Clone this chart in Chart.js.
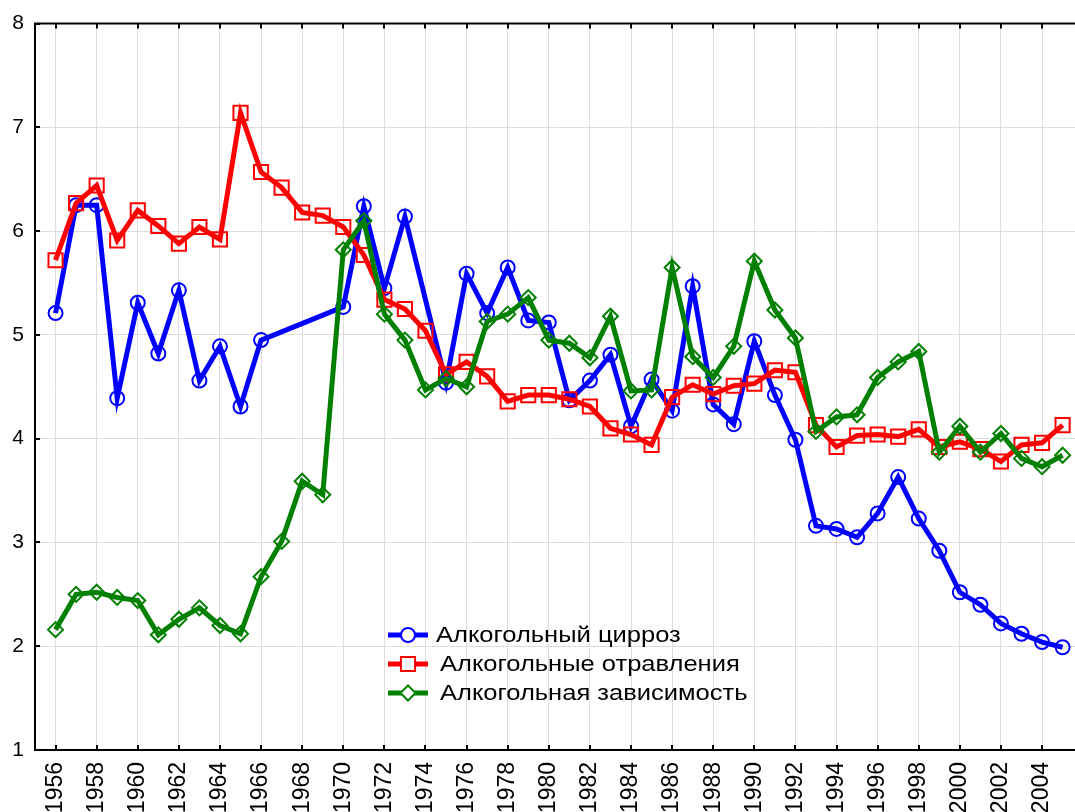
<!DOCTYPE html>
<html>
<head>
<meta charset="utf-8">
<script src="https://cdn.jsdelivr.net/npm/chart.js@4"></script>
<style>
  html, body { margin: 0; padding: 0; background: #fff; overflow: hidden; }
  canvas { display: block; }
</style>
</head>
<body>
<canvas id="chart" width="1089" height="830"></canvas>
<script>
var years = [1956, 1957, 1958, 1959, 1960, 1961, 1962, 1963, 1964, 1965,
             1966, 1967, 1968, 1969, 1970, 1971, 1972, 1973, 1974, 1975,
             1976, 1977, 1978, 1979, 1980, 1981, 1982, 1983, 1984, 1985,
             1986, 1987, 1988, 1989, 1990, 1991, 1992, 1993, 1994, 1995,
             1996, 1997, 1998, 1999, 2000, 2001, 2002, 2003, 2004, 2005];

var cirrhosis = [5.21, 6.25, 6.25, 4.39, 5.31, 4.82, 5.43, 4.56, 4.89, 4.31,
                 4.95, null, null, null, 5.27, 6.24, 5.45, 6.14, null, 4.54,
                 5.59, 5.21, 5.65, 5.14, 5.12, 4.37, 4.56, 4.81, 4.12, 4.57,
                 4.27, 5.47, 4.33, 4.14, 4.94, 4.42, 3.99, 3.16, 3.13, 3.05,
                 3.28, 3.63, 3.23, 2.92, 2.52, 2.40, 2.22, 2.12, 2.04, 1.99];

var poisoning = [5.72, 6.27, 6.44, 5.91, 6.20, 6.05, 5.88, 6.04, 5.92, 7.14,
                 6.57, 6.42, 6.18, 6.15, 6.04, 5.77, 5.34, 5.25, 5.04, 4.62,
                 4.74, 4.60, 4.36, 4.42, 4.42, 4.38, 4.31, 4.10, 4.04, 3.94,
                 4.40, 4.52, 4.43, 4.51, 4.53, 4.66, 4.64, 4.13, 3.92, 4.03,
                 4.04, 4.02, 4.09, 3.92, 3.97, 3.90, 3.78, 3.94, 3.96, 4.13];

var dependence = [2.16, 2.50, 2.52, 2.47, 2.44, 2.11, 2.26, 2.37, 2.20, 2.12,
                  2.67, 3.01, 3.59, 3.46, 5.82, 6.10, 5.20, 4.95, 4.47, 4.58,
                  4.50, 5.13, 5.20, 5.36, 4.95, 4.92, 4.78, 5.18, 4.46, 4.47,
                  5.65, 4.79, 4.59, 4.89, 5.71, 5.24, 4.97, 4.07, 4.21, 4.23,
                  4.59, 4.74, 4.84, 3.87, 4.12, 3.87, 4.05, 3.81, 3.73, 3.84];

var seriesNames = ['Алкогольный цирроз', 'Алкогольные отравления', 'Алкогольная зависимость'];
var xTicks = [1956, 1958, 1960, 1962, 1964, 1966, 1968, 1970, 1972, 1974, 1976, 1978, 1980,
              1982, 1984, 1986, 1988, 1990, 1992, 1994, 1996, 1998, 2000, 2002, 2004];
var yTicks = [1, 2, 3, 4, 5, 6, 7, 8];

function pairs(values) {
    return years.map(function(y, i) { return { x: y, y: values[i] }; });
}

var fontFamily = '"Liberation Sans", Arial, sans-serif';

// legend inside the plot + inner tick marks + top frame line
var extras = {
    id: 'extras',
    afterDatasetsDraw: function(chart) {
        var ctx = chart.ctx;
        var a = chart.chartArea;
        var xs = chart.scales.x, ys = chart.scales.y;
        ctx.save();
        ctx.strokeStyle = '#000';
        ctx.lineWidth = 2;
        ctx.beginPath();
        ctx.moveTo(a.left - 1, a.top);
        ctx.lineTo(a.right, a.top);
        ctx.stroke();
        xTicks.forEach(function(t) {
            var px = Math.round(xs.getPixelForValue(t));
            ctx.beginPath();
            ctx.moveTo(px, a.top); ctx.lineTo(px, a.top + 5);
            ctx.moveTo(px, a.bottom); ctx.lineTo(px, a.bottom - 5);
            ctx.stroke();
        });
        yTicks.forEach(function(t) {
            var py = Math.round(ys.getPixelForValue(t));
            ctx.beginPath();
            ctx.moveTo(a.left, py); ctx.lineTo(a.left + 5, py);
            ctx.stroke();
        });

        // legend
        var rows = [635, 664, 693];
        var textX = [436, 440, 440];
        ctx.textBaseline = 'middle';
        ctx.textAlign = 'left';
        chart.data.datasets.forEach(function(ds, i) {
            var y = rows[i];
            ctx.strokeStyle = ds.borderColor;
            ctx.lineWidth = 5;
            ctx.beginPath();
            ctx.moveTo(388, y); ctx.lineTo(428, y);
            ctx.stroke();
            ctx.lineWidth = ds.pointBorderWidth;
            ctx.fillStyle = '#fff';
            Chart.helpers.drawPoint(ctx, {
                pointStyle: ds.pointStyle, radius: ds.pointRadius,
                rotation: 0, borderWidth: ds.pointBorderWidth
            }, 408, y);
            ctx.save();
            ctx.translate(textX[i], y + 1);
            ctx.scale(1.16, 1);
            ctx.font = '22px ' + fontFamily;
            ctx.fillStyle = '#000';
            ctx.fillText(ds.label, 0, 0);
            ctx.restore();
        });
        ctx.restore();
    }
};

var ctx = document.getElementById('chart').getContext('2d');
var chart = new Chart(ctx, {
    type: 'line',
    data: {
        datasets: [{
            label: seriesNames[0],
            data: pairs(cirrhosis),
            borderColor: '#0000ff',
            backgroundColor: 'rgba(0,0,0,0)',
            borderWidth: 5,
            pointStyle: 'circle',
            pointRadius: 7,
            pointBorderWidth: 2,
            pointBorderColor: '#0000ff',
            pointBackgroundColor: 'rgba(0,0,0,0)',
            spanGaps: true,
            order: 2
        }, {
            label: seriesNames[1],
            data: pairs(poisoning),
            borderColor: '#ff0000',
            backgroundColor: 'rgba(0,0,0,0)',
            borderWidth: 5,
            pointStyle: 'rect',
            pointRadius: 10,
            pointBorderWidth: 2,
            pointBorderColor: '#ff0000',
            pointBackgroundColor: 'rgba(0,0,0,0)',
            order: 1
        }, {
            label: seriesNames[2],
            data: pairs(dependence),
            borderColor: '#008000',
            backgroundColor: 'rgba(0,0,0,0)',
            borderWidth: 5,
            pointStyle: 'rectRot',
            pointRadius: 7.5,
            pointBorderWidth: 2,
            pointBorderColor: '#008000',
            pointBackgroundColor: 'rgba(0,0,0,0)',
            order: 0
        }]
    },
    options: {
        responsive: false,
        animation: false,
        layout: { padding: { top: 19, right: 0, left: 0, bottom: 0 } },
        plugins: {
            legend: { display: false },
            tooltip: { enabled: false }
        },
        scales: {
            x: {
                type: 'linear',
                min: 1955,
                max: 2005.7,
                afterBuildTicks: function(scale) {
                    scale.ticks = xTicks.map(function(v) { return { value: v }; });
                },
                afterFit: function(scale) { scale.height = 80; },
                grid: { color: '#dcdcdc', lineWidth: 1, drawTicks: false },
                border: { color: '#000', width: 2 },
                ticks: {
                    autoSkip: false,
                    maxRotation: 90,
                    minRotation: 90,
                    padding: 12,
                    color: '#000',
                    font: { family: fontFamily, size: 23 },
                    callback: function(v) { return String(v); }
                }
            },
            y: {
                min: 1,
                max: 8,
                afterBuildTicks: function(scale) {
                    scale.ticks = yTicks.map(function(v) { return { value: v }; });
                },
                afterFit: function(scale) { scale.width = 35; },
                grid: { color: '#dcdcdc', lineWidth: 1, drawTicks: false },
                border: { color: '#000', width: 2 },
                ticks: {
                    padding: 11,
                    color: '#000',
                    font: { family: fontFamily, size: 21 },
                    callback: function(v) { return String(v); }
                }
            }
        }
    },
    plugins: [extras]
});
</script>
</body>
</html>
